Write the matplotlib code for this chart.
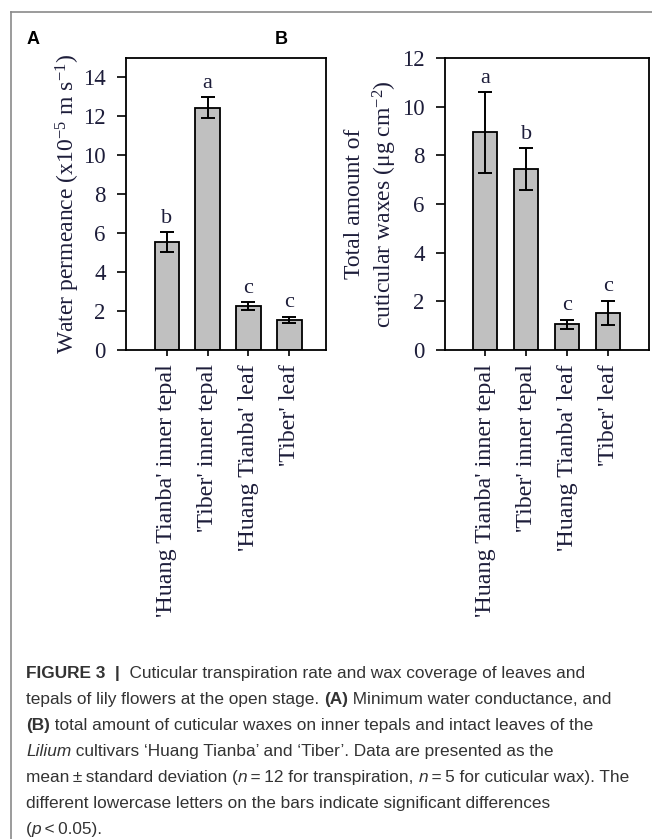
import matplotlib
matplotlib.use('Agg')
import matplotlib.pyplot as plt
from matplotlib.lines import Line2D

# data
categories = ["'Huang Tianba' inner tepal", "'Tiber' inner tepal",
              "'Huang Tianba' leaf", "'Tiber' leaf"]
perm_mean = [5.55, 12.45, 2.25, 1.55]
perm_sd = [0.52, 0.55, 0.2, 0.17]
perm_letters = ['b', 'a', 'c', 'c']
wax_mean = [8.95, 7.43, 1.05, 1.53]
wax_sd = [1.66, 0.86, 0.2, 0.5]
wax_letters = ['a', 'b', 'c', 'c']

W, H = 652, 839
plt.rcParams['font.family'] = ['Liberation Serif']
plt.rcParams['mathtext.fontset'] = 'custom'
plt.rcParams['mathtext.rm'] = 'Liberation Serif'
plt.rcParams['mathtext.it'] = 'Liberation Serif:italic'

txt_col = '#1d1d3a'
fig = plt.figure(figsize=(W / 100, H / 100), dpi=100)

def px_axes(l, r, t, b):
    return fig.add_axes([l / W, 1 - b / H, (r - l) / W, (b - t) / H])

def bar_panel(ax, means, sds, letters, ymax, step, xlim):
    x = range(len(means))
    ax.bar(x, means, width=0.6, color='#c0c0c0', edgecolor='black', linewidth=1.3, zorder=2)
    ax.errorbar(x, means, yerr=sds, fmt='none', ecolor='black', elinewidth=1.4,
                capsize=5, capthick=1.4, zorder=3)
    for i, (m, s, lab) in enumerate(zip(means, sds, letters)):
        ax.annotate(lab, (i, m + s), xytext=(0, 3), textcoords='offset points',
                    ha='center', va='bottom', fontsize=16, color=txt_col)
    ax.set_xlim(*xlim)
    ax.set_ylim(0, ymax)
    ax.set_yticks(range(0, ymax + 1, step))
    ax.set_xticks(list(x))
    ax.set_xticklabels(categories, rotation=90, fontsize=17.3, color=txt_col)
    ax.tick_params(axis='y', direction='out', length=6.5, width=1.2, labelsize=16.5,
                   labelcolor=txt_col, pad=8)
    ax.tick_params(axis='x', direction='out', length=4, width=1.2, pad=6)
    for sp in ax.spines.values():
        sp.set_linewidth(1.3)

axA = px_axes(126, 326, 58, 350)
bar_panel(axA, perm_mean, perm_sd, perm_letters, 15, 2, (-1.0, 3.9))
axA.set_yticks(range(0, 15, 2))
axA.set_ylabel('Water permeance (x10$^{-5}$ m s$^{-1}$)', fontsize=17, color=txt_col, labelpad=1)

axB = px_axes(445, 649, 58, 350)
bar_panel(axB, wax_mean, wax_sd, wax_letters, 12, 2, (-0.98, 4.0))
axB.set_ylabel('Total amount of\ncuticular waxes (\u03bcg cm$^{-2}$)', fontsize=17,
               color=txt_col, labelpad=2, linespacing=1.3)

fig.text(27 / W, 1 - 40 / H, 'A', fontsize=13, fontweight='bold', family='Liberation Sans',
         va='center', ha='left')
fig.text(275 / W, 1 - 40 / H, 'B', fontsize=13, fontweight='bold', family='Liberation Sans',
         va='center', ha='left')

# frame around figure
fig.add_artist(Line2D([11 / W, 11 / W], [0, 1 - 12 / H], color='#8a8a8a', lw=1.2))
fig.add_artist(Line2D([11 / W, 1], [1 - 12 / H, 1 - 12 / H], color='#8a8a8a', lw=1.2))

# caption, drawn piece by piece
caption = [
    [('FIGURE 3  |', 'bold'), ('  Cuticular transpiration rate and wax coverage of leaves and', 'normal')],
    [('tepals of lily flowers at the open stage. ', 'normal'), ('(A)', 'bold'),
     (' Minimum water conductance, and', 'normal')],
    [('(B)', 'bold'), (' total amount of cuticular waxes on inner tepals and intact leaves of the', 'normal')],
    [('Lilium', 'italic'), (' cultivars \u2018Huang Tianba\u2019 and \u2018Tiber\u2019. Data are presented as the', 'normal')],
    [('mean\u2009\u00b1\u2009standard deviation (', 'normal'), ('n', 'italic'),
     ('\u2009=\u200912 for transpiration, ', 'normal'), ('n', 'italic'),
     ('\u2009=\u20095 for cuticular wax). The', 'normal')],
    [('different lowercase letters on the bars indicate significant differences', 'normal')],
    [('(', 'normal'), ('p', 'italic'), ('\u2009<\u20090.05).', 'normal')],
]
line_y = [678, 704, 730, 756, 782, 808, 834]  # baselines in px
renderer = fig.canvas.get_renderer()
for pieces, y in zip(caption, line_y):
    x = 26
    for s, style in pieces:
        kw = dict(fontsize=12.4, family=['Liberation Sans', 'DejaVu Sans'], color='#333333',
                  va='baseline', ha='left')
        if style == 'bold':
            kw['fontweight'] = 'bold'
        if style == 'italic':
            kw['fontstyle'] = 'italic'
        t = fig.text(x / W, 1 - y / H, s, **kw)
        x += t.get_window_extent(renderer).width

fig.savefig('out.png', dpi=100)
